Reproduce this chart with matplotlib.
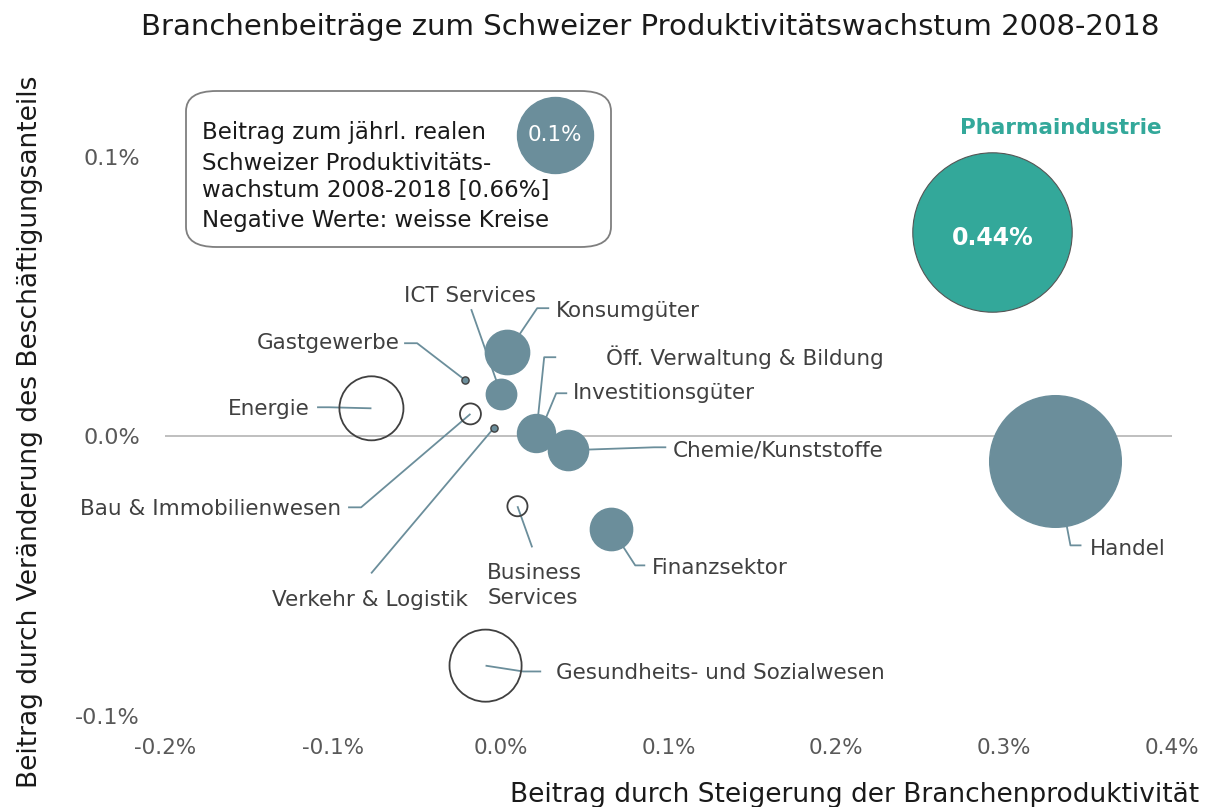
import matplotlib
matplotlib.use("Agg")
import matplotlib.pyplot as plt
from matplotlib.patches import FancyBboxPatch
import numpy as np

# ---------------- data ----------------
sectors = ["Pharmaindustrie", "Handel", "Energie", "Gesundheits- und Sozialwesen",
           "Konsumgüter", "ICT Services", "Gastgewerbe", "Bau & Immobilienwesen",
           "Verkehr & Logistik", "Öff. Verwaltung & Bildung", "Investitionsgüter",
           "Chemie/Kunststoffe", "Business Services", "Finanzsektor"]
# contribution via productivity growth (x, %) and employment share (y, %)
x_prod = [0.293, 0.330, -0.077, -0.009, 0.004, 0.0003, -0.021, -0.018,
          -0.004, 0.022, 0.021, 0.040, 0.010, 0.066]
y_empl = [0.073, -0.009, 0.010, -0.082, 0.030, 0.015, 0.020, 0.008,
          0.003, 0.002, 0.001, -0.005, -0.025, -0.033]
# total contribution (bubble area, %)
contrib = [0.44, 0.30, -0.071, -0.090, 0.034, 0.016, 0.0009, -0.0076,
           0.0009, 0.006, 0.025, 0.028, -0.007, 0.031]
legend_value = 0.1
total_growth = 0.66

x_ticks = [-0.2, -0.1, 0.0, 0.1, 0.2, 0.3, 0.4]
y_ticks = [-0.1, 0.0, 0.1]

# ---------------- style ----------------
W, H = 1216, 807
POS = "#6b8e9b"
PHARMA = "#33a89a"
TXT = "#404040"
LEAD = "#6b8e9b"
FONT = "DejaVu Sans"
LBL = 15.5

fig = plt.figure(figsize=(W / 100, H / 100), dpi=100)
X0, X1 = 165, 1172
YB, YT = 716, 58.7
ax = fig.add_axes([X0 / W, (H - YB) / H, (X1 - X0) / W, (YB - YT) / H])
ax.set_xlim(-0.2, 0.4)
ax.set_ylim(-0.1, (436 - YT) / 2795)
for s in ax.spines.values():
    s.set_visible(False)

def P(px, py):
    """pixel position -> data coordinates (layout helper)"""
    return ((px - 501.5) / 1677.5, (436 - py) / 2795)

ax.axhline(0, color="#bfbfbf", lw=1.4, zorder=1)

ax.set_xticks(x_ticks)
ax.set_xticklabels([f"{v:.1f}%" for v in x_ticks], family=FONT, fontsize=15.5, color="#595959")
ax.set_yticks(y_ticks)
ax.set_yticklabels([f"{v:.1f}%" for v in y_ticks], family=FONT, fontsize=16, color="#595959")
ax.tick_params(axis="both", length=0)
ax.tick_params(axis="x", pad=16)
ax.tick_params(axis="y", pad=18)

# bubble size: radius_px = 38 * sqrt(|v| / 0.1)  -> s in pt^2
def size(v):
    r_pt = 38 * np.sqrt(abs(v) / 0.1) * 0.72
    return (2 * r_pt) ** 2

# leader lines (pixel layout) and labels
leaders = {
    "Gastgewerbe": [(405, 343), (418, 343)],
    "ICT Services": [(472, 309)],
    "Konsumgüter": [(550, 308), (538, 308)],
    "Öff. Verwaltung & Bildung": [(557, 357), (545, 357), (539, 415)],
    "Investitionsgüter": [(568, 393), (557, 393), (547, 417)],
    "Energie": [(318, 407), (330, 407)],
    "Bau & Immobilienwesen": [(349, 507), (362, 507)],
    "Verkehr & Logistik": [(372, 573)],
    "Chemie/Kunststoffe": [(667, 447), (655, 447)],
    "Business Services": [(533, 547)],
    "Finanzsektor": [(646, 565), (636, 565)],
    "Handel": [(1082, 545), (1071, 545)],
    "Gesundheits- und Sozialwesen": [(542, 671), (524, 671)],
}
labels = {
    "Gastgewerbe": (401, 343, "right", "Gastgewerbe"),
    "ICT Services": (471, 296, "center", "ICT Services"),
    "Konsumgüter": (557, 311, "left", "Konsumgüter"),
    "Öff. Verwaltung & Bildung": (607, 357, "left", "Öff. Verwaltung & Bildung"),
    "Investitionsgüter": (574, 393, "left", "Investitionsgüter"),
    "Energie": (311, 409, "right", "Energie"),
    "Bau & Immobilienwesen": (342, 509, "right", "Bau & Immobilienwesen"),
    "Verkehr & Logistik": (371, 600, "center", "Verkehr & Logistik"),
    "Chemie/Kunststoffe": (673, 450, "left", "Chemie/Kunststoffe"),
    "Business Services": (488, 585, "left", "Business\nServices"),
    "Finanzsektor": (653, 568, "left", "Finanzsektor"),
    "Handel": (1090, 549, "left", "Handel"),
    "Gesundheits- und Sozialwesen": (557, 673, "left", "Gesundheits- und Sozialwesen"),
}

for i, name in enumerate(sectors):
    if name in leaders:
        pts = [P(*p) for p in leaders[name]] + [(x_prod[i], y_empl[i])]
        xs, ys = zip(*pts)
        ax.plot(xs, ys, color=LEAD, lw=1.3, zorder=2, solid_capstyle="butt")
    if name in labels:
        px, py, ha, txt = labels[name]
        lx, ly = P(px, py)
        ax.text(lx, ly, txt, ha=ha, va="center", fontsize=LBL, color=TXT,
                family=FONT, linespacing=1.3, zorder=6)

# bubbles: draw larger first
order = np.argsort([-abs(c) for c in contrib])
for i in order:
    v = contrib[i]
    if sectors[i] == "Pharmaindustrie":
        fc, ec, lw = PHARMA, "#555555", 0.8
    elif v >= 0:
        fc, ec, lw = POS, POS if v > 0.002 else "#404040", 1.0
    else:
        fc, ec, lw = "none", "#404040", 1.3
    ax.scatter([x_prod[i]], [y_empl[i]], s=size(v), c=[fc] if fc != "none" else "none",
               edgecolors=ec, linewidths=lw, zorder=4 if v >= 0 else 3, clip_on=False)

# Pharma annotations
ip = sectors.index("Pharmaindustrie")
ax.text(x_prod[ip], y_empl[ip] - 0.002, f"{contrib[ip]:.2f}%", ha="center", va="center",
        fontsize=17, fontweight="bold", color="white", family=FONT, zorder=6)
tx, ty = P(1061, 128)
ax.text(tx, ty, "Pharmaindustrie", ha="center", va="center", fontsize=15.5,
        fontweight="bold", color=PHARMA, family=FONT, zorder=6)

# legend box
box = FancyBboxPatch((186 / W, (H - 247) / H), (611 - 186) / W, (247 - 91) / H,
                     boxstyle="round,pad=0,rounding_size=0.025", transform=fig.transFigure,
                     facecolor="white", edgecolor="#7f7f7f", lw=1.3, zorder=5)
ax.add_patch(box)
box.set_clip_on(False)
lx, ly = P(556, 135)
ax.scatter([lx], [ly], s=size(legend_value), c=[POS], edgecolors=POS, zorder=6, clip_on=False)
ax.text(lx, ly, f"{legend_value:.1f}%", ha="center", va="center", fontsize=15.5,
        color="white", family=FONT, zorder=7)
legend_lines = ["Beitrag zum jährl. realen", "Schweizer Produktivitäts-",
                f"wachstum 2008-2018 [{total_growth:.2f}%]", "Negative Werte: weisse Kreise"]
for k, (line, py) in enumerate(zip(legend_lines, [133, 163, 191, 220])):
    fig.text(202 / W, 1 - py / H, line, ha="left", va="center", fontsize=16.5,
             color="#1a1a1a", family=FONT, zorder=7)

# titles
fig.text(650 / W, 1 - 27 / H, "Branchenbeiträge zum Schweizer Produktivitätswachstum 2008-2018",
         ha="center", va="center", fontsize=21, color="#1a1a1a", family=FONT)
fig.text(855 / W, 1 - 795 / H, "Beitrag durch Steigerung der Branchenproduktivität",
         ha="center", va="center", fontsize=19, color="#1a1a1a", family=FONT)
fig.text(30 / W, 1 - 432 / H, "Beitrag durch Veränderung des Beschäftigungsanteils",
         ha="center", va="center", rotation=90, fontsize=19, color="#1a1a1a", family=FONT)

fig.savefig("out.png", dpi=100)
